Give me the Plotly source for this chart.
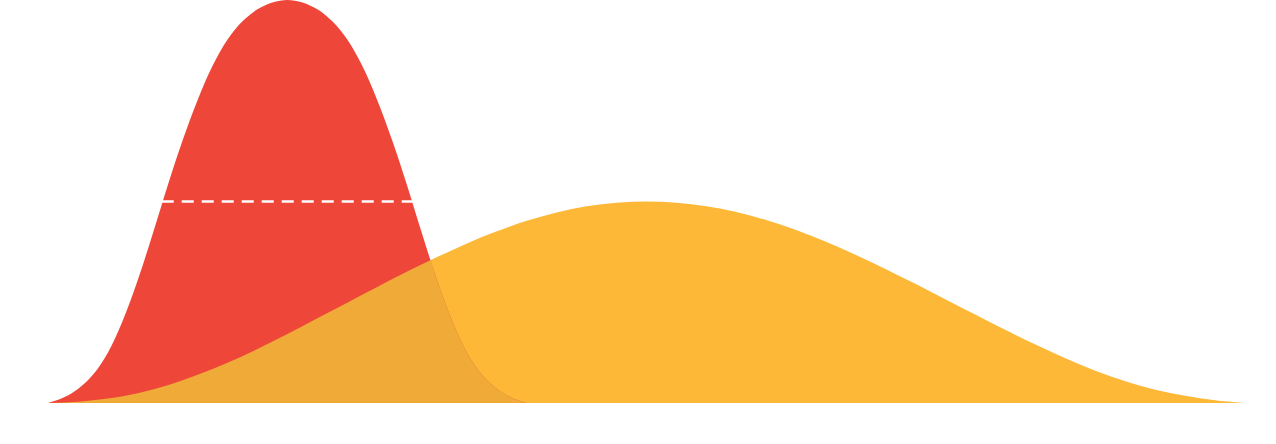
import numpy as np
import plotly.graph_objects as go

# Narrow (red) distribution
red_x = [0, 1.25, 2.5, 3.75, 5, 6.25, 7.5, 8.75, 10, 11.25, 12.5, 13.75, 15, 16.25, 17.5, 18.75,
         20, 21.25, 22.5, 23.75, 25, 26.25, 27.5, 28.75, 30, 31.25, 32.5, 33.75, 35, 36.25, 37.5, 38.75, 40]
red_y = [0, 0.013, 0.035, 0.07, 0.125, 0.205, 0.305, 0.42, 0.54, 0.652, 0.752, 0.837, 0.902, 0.947, 0.977, 0.994,
         1.0, 0.994, 0.977, 0.947, 0.902, 0.837, 0.752, 0.652, 0.54, 0.42, 0.305, 0.205, 0.125, 0.07, 0.035, 0.013, 0]

# Wide (yellow) distribution
yel_x = [0, 2.5, 5, 7.5, 10, 12.5, 15, 17.5, 20, 22.5, 25, 27.5, 30, 32.5, 35, 37.5, 40, 42.5, 45, 47.5,
         50, 52.5, 55, 57.5, 60, 62.5, 65, 67.5, 70, 72.5, 75, 77.5, 80, 82.5, 85, 87.5, 90, 92.5, 95, 97.5, 100]
yel_y = [0, 0.003, 0.011, 0.024, 0.044, 0.07, 0.1, 0.134, 0.171, 0.21, 0.249, 0.288, 0.326, 0.362, 0.396,
         0.426, 0.452, 0.473, 0.488, 0.497, 0.5, 0.497, 0.488, 0.474, 0.454, 0.429, 0.4, 0.367, 0.332, 0.295,
         0.257, 0.219, 0.181, 0.145, 0.111, 0.08, 0.054, 0.033, 0.018, 0.007, 0]

# Half-maximum marker of the red curve
half_x = [9.5, 30.5]
half_y = [0.5, 0.5]

RED = "#EF463A"
YEL = "#FDB838"
OVL = "#EFAA38"

# Overlap region: min of the two curves (yellow left of the crossing, red right of it)
fx = np.linspace(0, 40, 4001)
diff = np.interp(fx, red_x, red_y) - np.interp(fx, yel_x, yel_y)
idx = np.where((fx > 25) & (diff <= 0))[0][0]
cx = float(fx[idx])
cy = float(np.interp(cx, yel_x, yel_y))
eps = 0.06
ovl_left_x = [x for x in yel_x if x < cx] + [cx + eps]
ovl_left_y = [y for x, y in zip(yel_x, yel_y) if x < cx] + [float(np.interp(cx + eps, yel_x, yel_y))]
ovl_right_x = [cx] + [x for x in red_x if x > cx]
ovl_right_y = [cy] + [y for x, y in zip(red_x, red_y) if x > cx]

fig = go.Figure()
fig.add_trace(go.Scatter(x=yel_x, y=yel_y, mode="lines",
                         line=dict(width=0, shape="spline", color=YEL),
                         fill="tozeroy", fillcolor=YEL, hoverinfo="skip"))
fig.add_trace(go.Scatter(x=red_x, y=red_y, mode="lines",
                         line=dict(width=0, shape="spline", color=RED),
                         fill="tozeroy", fillcolor=RED, hoverinfo="skip"))
fig.add_trace(go.Scatter(x=ovl_left_x, y=ovl_left_y, mode="lines",
                         line=dict(width=0, shape="spline", color=OVL),
                         fill="tozeroy", fillcolor=OVL, hoverinfo="skip"))
fig.add_trace(go.Scatter(x=ovl_right_x, y=ovl_right_y, mode="lines",
                         line=dict(width=0, shape="spline", color=OVL),
                         fill="tozeroy", fillcolor=OVL, hoverinfo="skip"))
fig.add_trace(go.Scatter(x=half_x, y=half_y, mode="lines",
                         line=dict(color="white", width=2.5, dash="12px,8px"), hoverinfo="skip"))

fig.update_layout(
    width=1276, height=444,
    margin=dict(l=48, r=31, t=0, b=41),
    paper_bgcolor="white", plot_bgcolor="white",
    showlegend=False,
    xaxis=dict(range=[0, 100], visible=False, showgrid=False, zeroline=False),
    yaxis=dict(range=[0, 1.0], visible=False, showgrid=False, zeroline=False),
)
fig.write_html("out.html", config={"displayModeBar": False},
               post_script="document.body.style.margin='0';document.body.style.overflow='hidden';")
